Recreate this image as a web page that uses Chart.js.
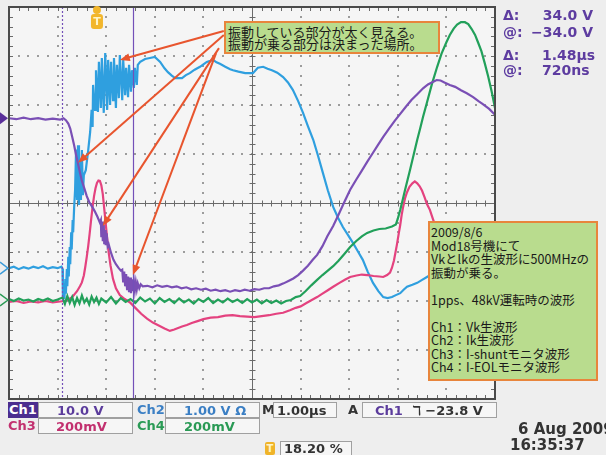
<!DOCTYPE html>
<html>
<head>
<meta charset="utf-8">
<script src="https://cdn.jsdelivr.net/npm/chart.js@4/dist/chart.umd.min.js"></script>
<style>
  body { margin: 0; background: #eeeeee; }
  #wrap { position: relative; width: 606px; height: 455px; overflow: hidden; }
  #scope { position: absolute; left: 0; top: 0; }
  .c { position: absolute; box-sizing: border-box; font: bold 13px "DejaVu Sans", sans-serif; line-height: 15px; white-space: nowrap; }
  .box { border: 1px solid #a0a0a0; background: #f6f6f6; }
  .ro { position: absolute; font: bold 14px "DejaVu Sans", sans-serif; color: #5d3ca0; white-space: nowrap; line-height: 16px; }
  .note { position: absolute; box-sizing: border-box; border: 2px solid #e8853c; background: #b9dc8e;
          font-family: "Noto Sans CJK JP", sans-serif; color: #1a1a1a; white-space: nowrap; }
</style>
</head>
<body>
<div id="wrap">
  <canvas id="scope" width="606" height="455"></canvas>

  <!-- 注釈 -->
  <div class="note" style="left:224px;top:21px;width:216px;height:33px;font-size:13px;line-height:12px;padding:3px 0 0 2px;">振動している部分が太く見える。<br>振動が乗る部分は決まった場所。</div>
  <div class="note" style="left:428px;top:221px;width:170px;height:160px;font-size:12.5px;line-height:13.5px;padding:2px 0 0 1px;">2009/8/6<br>Mod18号機にて<br>Vkとlkの生波形に500MHzの<br>振動が乗る。<br><br>1pps、48kV運転時の波形<br><br>Ch1：Vk生波形<br>Ch2：Ik生波形<br>Ch3：I-shuntモニタ波形<br>Ch4：I-EOLモニタ波形</div>

  <!-- カーソル読み値 -->
  <div class="ro" style="left:503px;top:7px;">Δ:</div>
  <div class="ro" style="left:503px;top:24px;">@:</div>
  <div class="ro" style="left:503px;top:47px;">Δ:</div>
  <div class="ro" style="left:503px;top:62px;">@:</div>
  <div class="ro" style="right:13px;top:7px;">34.0 V</div>
  <div class="ro" style="right:13px;top:24px;">−34.0 V</div>
  <div class="ro" style="left:542px;top:47px;">1.48µs</div>
  <div class="ro" style="left:542px;top:62px;">720ns</div>

  <!-- ステータス行 -->
  <div class="c" style="left:8px;top:402px;width:30px;height:16px;background:#4b2d8f;color:#fff;text-align:center;">Ch1</div>
  <div class="c box" style="left:38px;top:402px;width:95px;height:16px;color:#5b3c9c;padding-left:18px;">10.0 V</div>
  <div class="c" style="left:137px;top:402px;color:#3b7fc4;">Ch2</div>
  <div class="c box" style="left:165px;top:402px;width:95px;height:16px;color:#3b7fc4;padding-left:18px;">1.00 V Ω</div>
  <div class="c" style="left:262px;top:402px;color:#333;">M</div>
  <div class="c box" style="left:273px;top:402px;width:64px;height:16px;color:#333;padding-left:3px;">1.00µs</div>
  <div class="c" style="left:348px;top:402px;color:#333;">A</div>
  <div class="c box" style="left:362px;top:402px;width:135px;height:16px;color:#333;padding-left:12px;"><span style="color:#5b3c9c">Ch1</span> &nbsp;ℸ −23.8 V</div>
  <div class="c" style="left:8px;top:418px;color:#c2306f;">Ch3</div>
  <div class="c box" style="left:38px;top:418px;width:95px;height:16px;color:#c2306f;padding-left:17px;">200mV</div>
  <div class="c" style="left:137px;top:418px;color:#2a9a55;">Ch4</div>
  <div class="c box" style="left:165px;top:418px;width:95px;height:16px;color:#2a9a55;padding-left:18px;">200mV</div>
  <div class="c" style="left:265px;top:442px;width:10px;height:13px;background:#f0b429;color:#fff4c8;font-size:10px;line-height:13px;text-align:center;border-radius:2px;">T</div>
  <div class="c box" style="left:280px;top:441px;width:72px;height:15px;color:#333;padding-left:3px;line-height:13px;">18.20 %</div>
  <div class="c" style="left:518px;top:422px;color:#333;font-size:15px;">6 Aug 2009</div>
  <div class="c" style="left:510px;top:438px;color:#333;font-size:15px;">16:35:37</div>
</div>

<script>
// 目盛り（div単位）
const xDivs = [0, 1, 2, 3, 4, 5, 6, 7, 8, 9, 10];
const yDivs = [-4, -3, -2, -1, 0, 1, 2, 3, 4];

// カーソル位置、トリガ位置、各chの基準マーカー
const cursorTimes = [1.09, 2.55];
const triggerTime = 1.81;
const markerLevels = { ch1: 1.73, ch2: -1.33, ch4: -1.98 };

// 矢印（始点 -> 終点）
const arrows = [
    [[4.42, 3.51], [2.28, 2.92]],
    [[4.42, 3.43], [1.42, 0.82]],
    [[4.32, 3.16], [1.93, -0.47]],
    [[4.26, 3.06], [2.55, -1.47]]
];

// Ch1 Vk (紫)
const ch1 = [[0,1.73],[0.15,1.71],[0.3,1.74],[0.45,1.71],[0.6,1.73],[0.75,1.70],[0.9,1.72],[1.05,1.70],[1.12,1.73],[1.17,1.69],
    [1.22,1.62],[1.26,1.52],[1.30,1.35],[1.34,1.18],[1.38,0.98],[1.42,0.80],[1.46,0.62],[1.50,0.45],[1.55,0.30],[1.60,0.14],
    [1.65,0.02],[1.70,-0.06],[1.76,-0.16],[1.82,-0.28],[1.87,-0.40],[1.89,-0.35],[1.90,-0.70],[1.92,-0.38],[1.93,-0.78],[1.95,-0.45],
    [1.96,-0.84],[1.98,-0.55],[1.99,-0.86],[2.01,-0.62],[2.03,-0.88],[2.05,-0.84],[2.10,-1.02],[2.15,-1.16],[2.20,-1.25],[2.25,-1.32],
    [2.30,-1.38],[2.33,-1.36],[2.35,-1.62],[2.37,-1.40],[2.39,-1.70],[2.41,-1.45],[2.43,-1.78],[2.45,-1.50],[2.47,-1.82],[2.49,-1.52],
    [2.51,-1.84],[2.53,-1.56],[2.55,-1.80],[2.57,-1.60],[2.59,-1.78],[2.61,-1.62],[2.63,-1.76],[2.65,-1.64],[2.68,-1.74],[2.71,-1.66],
    [2.75,-1.70],[2.85,-1.69],[2.95,-1.72],[3.05,-1.68],[3.15,-1.71],[3.25,-1.69],[3.35,-1.72],[3.45,-1.70],[3.55,-1.74],[3.65,-1.72],
    [3.75,-1.76],[3.85,-1.74],[3.95,-1.77],[4.05,-1.75],[4.15,-1.79],[4.25,-1.77],[4.35,-1.80],[4.45,-1.78],[4.55,-1.81],[4.65,-1.78],
    [4.75,-1.80],[4.85,-1.77],[4.95,-1.79],[5.05,-1.76],[5.15,-1.77],[5.25,-1.74],[5.35,-1.74],[5.45,-1.70],[5.55,-1.68],[5.65,-1.64],
    [5.75,-1.59],[5.85,-1.54],[5.95,-1.47],[6.05,-1.38],[6.15,-1.28],[6.25,-1.16],[6.34,-1.06],[6.45,-0.88],[6.55,-0.68],[6.67,-0.47],
    [6.78,-0.24],[6.90,0.02],[7.02,0.27],[7.14,0.47],[7.26,0.66],[7.37,0.84],[7.48,1.01],[7.59,1.18],[7.70,1.35],[7.82,1.52],
    [7.94,1.68],[8.05,1.82],[8.17,1.97],[8.28,2.10],[8.40,2.22],[8.52,2.34],[8.62,2.42],[8.72,2.47],[8.80,2.51],[8.88,2.50],
    [8.96,2.46],[9.07,2.41],[9.18,2.37],[9.30,2.30],[9.42,2.24],[9.55,2.16],[9.66,2.08],[9.75,2.02],[9.88,1.92],[10,1.80]];

// Ch2 Ik (青)
const ch2 = [[0,-1.33],[0.1,-1.30],[0.2,-1.35],[0.3,-1.31],[0.4,-1.34],[0.5,-1.30],[0.6,-1.33],[0.7,-1.29],[0.8,-1.34],[0.9,-1.31],
    [1.0,-1.33],[1.08,-1.30],[1.10,-1.34],[1.11,-1.96],[1.13,-1.80],[1.14,-1.96],[1.16,-1.55],[1.17,-1.85],[1.19,-1.35],[1.20,-1.70],
    [1.22,-1.10],[1.23,-1.50],[1.25,-0.90],[1.26,-1.25],[1.28,-0.60],[1.29,-0.95],[1.31,-0.35],[1.32,-0.60],[1.34,-0.10],[1.36,0.27],
    [1.38,1.09],[1.40,0.06],[1.42,1.18],[1.44,-0.04],[1.46,0.88],[1.48,0.06],[1.50,1.08],[1.52,0.16],[1.54,0.57],[1.58,0.67],
    [1.63,1.08],[1.67,1.45],[1.70,1.90],[1.72,1.55],[1.73,2.41],[1.77,1.90],[1.79,2.71],[1.83,1.86],[1.85,2.88],[1.89,1.94],
    [1.91,2.96],[1.95,1.84],[1.98,3.06],[2.02,1.90],[2.04,2.92],[2.08,2.00],[2.10,2.88],[2.14,2.10],[2.16,2.96],[2.20,1.94],
    [2.22,2.82],[2.26,2.14],[2.28,3.02],[2.33,2.10],[2.35,2.92],[2.39,2.20],[2.41,2.76],[2.45,2.16],[2.47,2.82],[2.51,2.27],
    [2.53,2.71],[2.57,2.35],[2.59,2.76],[2.63,2.41],[2.65,2.82],[2.70,2.88],[2.80,2.94],[2.90,2.96],[3.00,2.98],[3.11,2.88],
    [3.20,2.75],[3.27,2.67],[3.35,2.60],[3.42,2.55],[3.56,2.55],[3.64,2.61],[3.72,2.65],[3.82,2.72],[3.93,2.78],[4.00,2.83],
    [4.07,2.88],[4.14,2.90],[4.20,2.92],[4.27,2.87],[4.34,2.84],[4.45,2.78],[4.55,2.73],[4.61,2.71],[4.72,2.68],[4.86,2.65],
    [5.02,2.65],[5.12,2.76],[5.23,2.78],[5.32,2.74],[5.41,2.71],[5.52,2.66],[5.64,2.57],[5.74,2.46],[5.84,2.31],[5.95,2.08],
    [6.05,1.84],[6.15,1.57],[6.26,1.29],[6.36,0.96],[6.46,0.61],[6.56,0.26],[6.67,-0.08],[6.77,-0.30],[6.87,-0.49],[6.98,-0.66],
    [7.08,-0.82],[7.18,-0.99],[7.28,-1.16],[7.38,-1.40],[7.49,-1.63],[7.60,-1.80],[7.70,-1.92],[7.79,-1.94],[7.88,-1.92],[7.96,-1.88],
    [8.05,-1.84],[8.12,-1.77],[8.19,-1.71],[8.30,-1.67],[8.40,-1.63],[8.50,-1.57],[8.60,-1.51],[8.77,-1.41],[9.2,-1.25],[10,-1.10]];

// Ch3 I-shunt (ピンク)
const ch3 = [[0,-2.02],[0.15,-2.00],[0.3,-2.04],[0.45,-2.01],[0.6,-2.03],[0.75,-2.00],[0.9,-2.03],[1.05,-2.01],[1.15,-2.00],[1.22,-1.97],
    [1.30,-1.92],[1.40,-1.80],[1.46,-1.70],[1.50,-1.62],[1.54,-1.48],[1.57,-1.30],[1.60,-1.10],[1.63,-0.88],[1.66,-0.62],[1.69,-0.34],
    [1.72,-0.08],[1.75,0.14],[1.78,0.30],[1.81,0.41],[1.84,0.46],[1.87,0.45],[1.90,0.36],[1.93,0.18],[1.96,-0.12],[1.99,-0.42],
    [2.02,-0.72],[2.05,-1.00],[2.09,-1.28],[2.14,-1.55],[2.20,-1.74],[2.28,-1.88],[2.38,-1.96],[2.49,-2.03],[2.60,-2.14],[2.72,-2.26],
    [2.84,-2.36],[2.96,-2.44],[3.08,-2.50],[3.20,-2.56],[3.31,-2.61],[3.40,-2.58],[3.48,-2.55],[3.56,-2.52],[3.66,-2.49],[3.76,-2.45],
    [3.88,-2.41],[4.00,-2.37],[4.15,-2.34],[4.30,-2.33],[4.45,-2.30],[4.60,-2.29],[4.75,-2.31],[4.90,-2.32],[5.05,-2.33],[5.20,-2.31],
    [5.35,-2.29],[5.50,-2.26],[5.64,-2.24],[5.78,-2.19],[5.90,-2.14],[6.00,-2.11],[6.12,-2.04],[6.23,-1.98],[6.34,-1.92],[6.45,-1.85],
    [6.56,-1.78],[6.67,-1.71],[6.80,-1.63],[6.92,-1.56],[7.02,-1.51],[7.15,-1.48],[7.26,-1.46],[7.37,-1.47],[7.50,-1.49],[7.62,-1.50],
    [7.70,-1.51],[7.78,-1.47],[7.84,-1.42],[7.88,-1.32],[7.92,-1.18],[7.95,-1.02],[7.98,-0.86],[8.02,-0.62],[8.05,-0.45],[8.08,-0.24],
    [8.11,-0.08],[8.15,0.10],[8.19,0.22],[8.24,0.33],[8.30,0.40],[8.35,0.44],[8.40,0.40],[8.45,0.34],[8.50,0.25],[8.55,0.12],
    [8.60,-0.02],[8.66,-0.14],[8.72,-0.32],[8.80,-0.55],[9.0,-0.95],[9.5,-1.30],[10,-1.45]];

// Ch4 I-EOL (緑)
const ch4 = [[0,-1.96],[0.1,-2.00],[0.2,-1.95],[0.3,-1.99],[0.4,-1.97],[0.5,-2.01],[0.6,-1.96],[0.7,-1.99],[0.8,-1.95],[0.9,-2.00],
    [1.0,-1.97],[1.1,-1.93],[1.15,-2.06],[1.2,-1.90],[1.25,-2.04],[1.3,-1.92],[1.35,-2.08],[1.4,-1.94],[1.45,-2.05],[1.5,-1.89],
    [1.55,-2.03],[1.6,-1.95],[1.65,-2.07],[1.7,-1.91],[1.75,-2.02],[1.8,-1.93],[1.85,-2.06],[1.9,-1.95],[2.0,-2.03],[2.1,-1.92],
    [2.2,-2.05],[2.3,-1.94],[2.4,-2.02],[2.5,-1.96],[2.6,-2.04],[2.7,-1.93],[2.8,-2.01],[2.9,-1.95],[3.0,-2.05],[3.1,-1.94],
    [3.2,-2.02],[3.3,-1.96],[3.4,-2.04],[3.5,-1.95],[3.6,-2.03],[3.7,-1.97],[3.8,-2.05],[3.9,-1.96],[4.0,-2.02],[4.1,-1.94],
    [4.2,-2.04],[4.3,-1.97],[4.4,-2.03],[4.5,-1.95],[4.6,-2.02],[4.7,-1.97],[4.8,-2.04],[4.9,-1.96],[5.0,-2.03],[5.1,-1.97],
    [5.2,-2.05],[5.3,-1.98],[5.4,-2.04],[5.5,-1.99],[5.6,-2.05],[5.7,-2.00],[5.80,-1.98],[5.90,-1.92],[5.99,-1.90],[6.10,-1.80],
    [6.22,-1.68],[6.34,-1.57],[6.45,-1.47],[6.56,-1.38],[6.67,-1.29],[6.78,-1.18],[6.90,-1.04],[7.02,-0.90],[7.14,-0.78],[7.26,-0.68],
    [7.37,-0.61],[7.50,-0.56],[7.62,-0.53],[7.75,-0.52],[7.88,-0.48],[7.96,-0.44],[8.00,-0.32],[8.05,-0.14],[8.10,0.06],[8.15,0.27],
    [8.20,0.47],[8.25,0.67],[8.32,0.96],[8.40,1.29],[8.46,1.52],[8.52,1.76],[8.60,2.05],[8.70,2.42],[8.81,2.78],[8.90,3.05],
    [9.00,3.28],[9.07,3.43],[9.15,3.56],[9.22,3.64],[9.30,3.69],[9.38,3.69],[9.45,3.65],[9.52,3.55],[9.59,3.43],[9.65,3.28],
    [9.72,3.10],[9.79,2.85],[9.86,2.58],[9.93,2.28],[10,1.94]];

const toXY = arr => arr.map(p => ({ x: p[0], y: p[1] }));

// 背景とグラティクル
const graticule = {
    id: 'graticule',
    beforeDatasetsDraw(chart) {
        const { ctx, chartArea: a, scales: { x, y } } = chart;
        ctx.save();
        ctx.fillStyle = '#f5f5f5';
        ctx.fillRect(a.left, a.top, a.right - a.left, a.bottom - a.top);

        // 点線グリッド
        ctx.fillStyle = '#9c9c9c';
        xDivs.forEach(v => {
            if (v === 0 || v === 10 || v === 5) return;
            const px = Math.round(x.getPixelForValue(v));
            for (let s = 0; s <= 40; s++) {
                const py = Math.round(y.getPixelForValue(-4 + s * 0.2));
                ctx.fillRect(px - 1, py - 1, 2, 2);
            }
        });
        yDivs.forEach(v => {
            if (v === -4 || v === 4 || v === 0) return;
            const py = Math.round(y.getPixelForValue(v));
            for (let s = 0; s <= 50; s++) {
                const px = Math.round(x.getPixelForValue(s * 0.2));
                ctx.fillRect(px - 1, py - 1, 2, 2);
            }
        });

        // 中心線と目盛り
        const cx = Math.round(x.getPixelForValue(5)) + 0.5;
        const cy = Math.round(y.getPixelForValue(0)) + 0.5;
        ctx.strokeStyle = '#6a6a6a';
        ctx.lineWidth = 1;
        ctx.beginPath();
        ctx.moveTo(a.left, cy); ctx.lineTo(a.right, cy);
        ctx.moveTo(cx, a.top); ctx.lineTo(cx, a.bottom);
        for (let s = 0; s <= 50; s++) {
            const px = Math.round(x.getPixelForValue(s * 0.2)) + 0.5;
            ctx.moveTo(px, cy - 3); ctx.lineTo(px, cy + 3);
            ctx.moveTo(px, a.top); ctx.lineTo(px, a.top + 4);
            ctx.moveTo(px, a.bottom); ctx.lineTo(px, a.bottom - 4);
        }
        for (let s = 0; s <= 40; s++) {
            const py = Math.round(y.getPixelForValue(-4 + s * 0.2)) + 0.5;
            ctx.moveTo(cx - 3, py); ctx.lineTo(cx + 3, py);
            ctx.moveTo(a.left, py); ctx.lineTo(a.left + 4, py);
            ctx.moveTo(a.right, py); ctx.lineTo(a.right - 4, py);
        }
        ctx.stroke();
        ctx.restore();
    },
    afterDatasetsDraw(chart) {
        const { ctx, chartArea: a, scales: { x, y } } = chart;
        ctx.save();
        // カーソル
        ctx.strokeStyle = '#7350b8';
        ctx.lineWidth = 1.2;
        ctx.setLineDash([2, 2]);
        let px = Math.round(x.getPixelForValue(cursorTimes[0])) + 0.5;
        ctx.beginPath(); ctx.moveTo(px, a.top); ctx.lineTo(px, a.bottom); ctx.stroke();
        ctx.setLineDash([]);
        px = Math.round(x.getPixelForValue(cursorTimes[1])) + 0.5;
        ctx.beginPath(); ctx.moveTo(px, a.top); ctx.lineTo(px, a.bottom); ctx.stroke();

        // 外枠
        ctx.strokeStyle = '#4a4a4a';
        ctx.lineWidth = 2;
        ctx.strokeRect(a.left, a.top, a.right - a.left, a.bottom - a.top);

        // 矢印
        ctx.strokeStyle = '#e8552e';
        ctx.fillStyle = '#e8552e';
        ctx.lineWidth = 2;
        arrows.forEach(([s, e]) => {
            const x0 = x.getPixelForValue(s[0]), y0 = y.getPixelForValue(s[1]);
            const x1 = x.getPixelForValue(e[0]), y1 = y.getPixelForValue(e[1]);
            const ang = Math.atan2(y1 - y0, x1 - x0);
            ctx.beginPath();
            ctx.moveTo(x0, y0);
            ctx.lineTo(x1 - 7 * Math.cos(ang), y1 - 7 * Math.sin(ang));
            ctx.stroke();
            ctx.beginPath();
            ctx.moveTo(x1, y1);
            ctx.lineTo(x1 - 10 * Math.cos(ang) + 4 * Math.sin(ang), y1 - 10 * Math.sin(ang) - 4 * Math.cos(ang));
            ctx.lineTo(x1 - 10 * Math.cos(ang) - 4 * Math.sin(ang), y1 - 10 * Math.sin(ang) + 4 * Math.cos(ang));
            ctx.closePath();
            ctx.fill();
        });
        ctx.restore();
    },
    afterDraw(chart) {
        const { ctx, chartArea: a, scales: { x, y } } = chart;
        ctx.save();
        // 左端のチャンネルマーカー
        let py = y.getPixelForValue(markerLevels.ch1);
        ctx.fillStyle = '#5a2f9a';
        ctx.beginPath(); ctx.moveTo(0, py - 6); ctx.lineTo(8, py); ctx.lineTo(0, py + 6); ctx.closePath(); ctx.fill();
        ctx.lineWidth = 1.5;
        py = y.getPixelForValue(markerLevels.ch2);
        ctx.strokeStyle = '#3a9ad8';
        ctx.beginPath(); ctx.moveTo(0, py - 6); ctx.lineTo(8, py); ctx.lineTo(0, py + 6); ctx.stroke();
        py = y.getPixelForValue(markerLevels.ch4);
        ctx.strokeStyle = '#2a9a55';
        ctx.beginPath(); ctx.moveTo(0, py - 6); ctx.lineTo(8, py); ctx.lineTo(0, py + 6); ctx.stroke();

        // トリガ位置マーカー
        const tx = x.getPixelForValue(triggerTime);
        ctx.fillStyle = '#f2b62c';
        ctx.beginPath(); ctx.arc(tx, a.top + 3, 4, 0, Math.PI * 2); ctx.fill();
        ctx.beginPath(); ctx.roundRect(tx - 6, a.top + 7, 12, 15, 3); ctx.fill();
        ctx.fillStyle = '#fff5c8';
        ctx.font = 'bold 11px "DejaVu Sans"';
        ctx.textAlign = 'center';
        ctx.textBaseline = 'middle';
        ctx.fillText('T', tx, a.top + 15);
        ctx.restore();
    }
};

window.onload = function() {
    const ctx = document.getElementById('scope').getContext('2d');
    new Chart(ctx, {
        type: 'line',
        data: {
            datasets: [
                { label: 'Ch1', data: toXY(ch1), borderColor: '#7a4fb5', order: 0 },
                { label: 'Ch4', data: toXY(ch4), borderColor: '#22a05a', order: 1 },
                { label: 'Ch3', data: toXY(ch3), borderColor: '#e4427f', order: 2 },
                { label: 'Ch2', data: toXY(ch2), borderColor: '#2f9fdf', order: 3 }
            ]
        },
        options: {
            responsive: false,
            animation: false,
            events: [],
            layout: { padding: { left: 9, top: 7, right: 111, bottom: 56 } },
            elements: {
                point: { radius: 0 },
                line: { borderWidth: 2.2, tension: 0, fill: false }
            },
            scales: {
                x: { type: 'linear', min: 0, max: 10, display: false },
                y: { type: 'linear', min: -4, max: 4, display: false }
            },
            plugins: { legend: { display: false }, tooltip: { enabled: false } }
        },
        plugins: [graticule]
    });
};
</script>
</body>
</html>
